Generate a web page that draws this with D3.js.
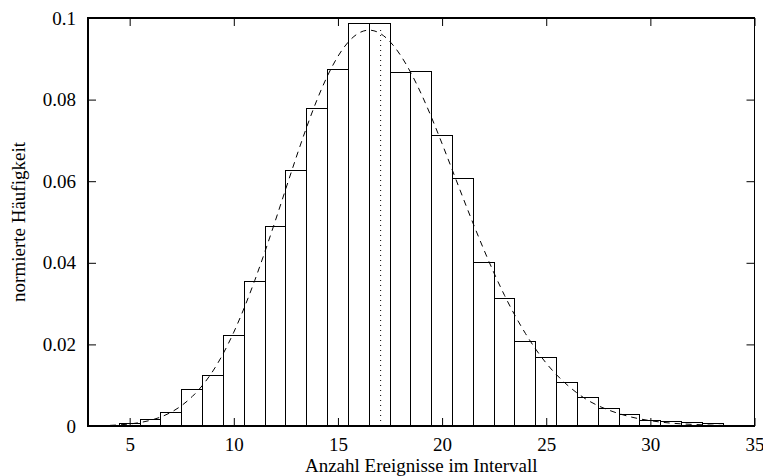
<!DOCTYPE html>
<html>
<head>
<meta charset="utf-8">
<script src="https://cdn.jsdelivr.net/npm/d3@7"></script>
<style>
  body { margin: 0; background: #fff; }
  svg { display: block; }
</style>
</head>
<body>
<div id="chart"></div>
<script>
// histogram bins (counts per interval), normalised
const binCenters = [4, 5, 6, 7, 8, 9, 10, 11, 12, 13, 14, 15, 16, 17, 18, 19,
  20, 21, 22, 23, 24, 25, 26, 27, 28, 29, 30, 31, 32, 33, 34];
const freq = [0.0002, 0.0006, 0.0016, 0.0033, 0.0089, 0.0124, 0.0221, 0.0355,
  0.0488, 0.0627, 0.0777, 0.0875, 0.0987, 0.0987, 0.0867, 0.0870,
  0.0713, 0.0607, 0.0400, 0.0313, 0.0206, 0.0167, 0.0107, 0.0069,
  0.0042, 0.0029, 0.0013, 0.00105, 0.0009, 0.0006, 0.0001];

// dashed fit curve
const fitX = [3, 4, 5, 6, 7, 8, 9, 10, 11, 12, 13, 14, 15, 16, 17, 18, 19,
  20, 21, 22, 23, 24, 25, 26, 27, 28, 29, 30, 31, 32, 33, 34, 35];
const fitY = [0.00003, 0.00014, 0.0005, 0.0014, 0.0034, 0.0072, 0.0135, 0.0230,
  0.0356, 0.0504, 0.0659, 0.0800, 0.0906, 0.0963, 0.0963, 0.0909, 0.0814,
  0.0692, 0.0560, 0.0433, 0.0320, 0.0227, 0.0154, 0.0101, 0.0063,
  0.0039, 0.0023, 0.0013, 0.0007, 0.0004, 0.0002, 0.0001, 0.00005];

// dotted mean line
const meanX = 17.05;
const meanTop = 0.098;

const xTicks = [5, 10, 15, 20, 25, 30, 35];
const yTicks = [0, 0.02, 0.04, 0.06, 0.08, 0.1];
const yTickLabels = ["0", "0.02", "0.04", "0.06", "0.08", "0.1"];

const W = 763, H = 476;
const plotL = 88, plotR = 754.5, plotT = 18, plotB = 426;
const font = "'Liberation Serif', 'Times New Roman', serif";

const svg = d3.select("#chart").append("svg")
  .attr("width", W)
  .attr("height", H);

const x = d3.scaleLinear().domain([3, 35]).range([plotL, plotR]);
const y = d3.scaleLinear().domain([0, 0.1]).range([plotB, plotT]);

// bars
svg.append("g")
  .selectAll("rect")
  .data(binCenters)
  .enter().append("rect")
  .attr("x", d => x(d - 0.5))
  .attr("width", d => x(d + 0.5) - x(d - 0.5))
  .attr("y", (d, i) => y(freq[i]))
  .attr("height", (d, i) => y(0) - y(freq[i]))
  .attr("fill", "#fff")
  .attr("stroke", "#000")
  .attr("stroke-width", 1)
  .attr("shape-rendering", "crispEdges");

// fit curve
const line = d3.line()
  .x((d, i) => x(fitX[i]))
  .y(d => y(d))
  .curve(d3.curveNatural);

svg.append("path")
  .datum(fitY)
  .attr("fill", "none")
  .attr("stroke", "#000")
  .attr("stroke-width", 1)
  .attr("stroke-dasharray", "6,5")
  .attr("d", line);

// mean line
svg.append("line")
  .attr("x1", x(meanX)).attr("x2", x(meanX))
  .attr("y1", y(0)).attr("y2", y(meanTop))
  .attr("stroke", "#000")
  .attr("stroke-width", 1)
  .attr("stroke-dasharray", "1,4");

// axes with inward ticks on all four sides
function styleAxis(g) {
  g.select(".domain").remove();
  g.selectAll("text")
    .attr("font-family", font)
    .attr("font-size", 19)
    .attr("fill", "#000");
  g.selectAll("line").attr("stroke", "#000");
}

svg.append("g")
  .attr("transform", "translate(0," + plotB + ")")
  .call(d3.axisBottom(x).tickValues(xTicks).tickSize(-8).tickPadding(12))
  .call(styleAxis);

svg.append("g")
  .attr("transform", "translate(0," + plotT + ")")
  .call(d3.axisTop(x).tickValues(xTicks).tickSize(-8).tickFormat(""))
  .call(styleAxis);

svg.append("g")
  .attr("transform", "translate(" + plotL + ",0)")
  .call(d3.axisLeft(y).tickValues(yTicks).tickSize(-8).tickPadding(12)
    .tickFormat((d, i) => yTickLabels[i]))
  .call(styleAxis);

svg.append("g")
  .attr("transform", "translate(" + plotR + ",0)")
  .call(d3.axisRight(y).tickValues(yTicks).tickSize(-8).tickFormat(""))
  .call(styleAxis);

// frame
svg.append("rect")
  .attr("x", plotL).attr("y", plotT)
  .attr("width", plotR - plotL).attr("height", plotB - plotT)
  .attr("fill", "none")
  .attr("stroke", "#000")
  .attr("stroke-width", 1.2)
  .attr("shape-rendering", "crispEdges");

// axis titles
svg.append("text")
  .attr("x", (plotL + plotR) / 2)
  .attr("y", 472)
  .attr("text-anchor", "middle")
  .attr("font-family", font)
  .attr("font-size", 19)
  .text("Anzahl Ereignisse im Intervall");

svg.append("text")
  .attr("transform", "translate(25," + ((plotT + plotB) / 2) + ") rotate(-90)")
  .attr("text-anchor", "middle")
  .attr("font-family", font)
  .attr("font-size", 19)
  .text("normierte Häufigkeit");
</script>
</body>
</html>
